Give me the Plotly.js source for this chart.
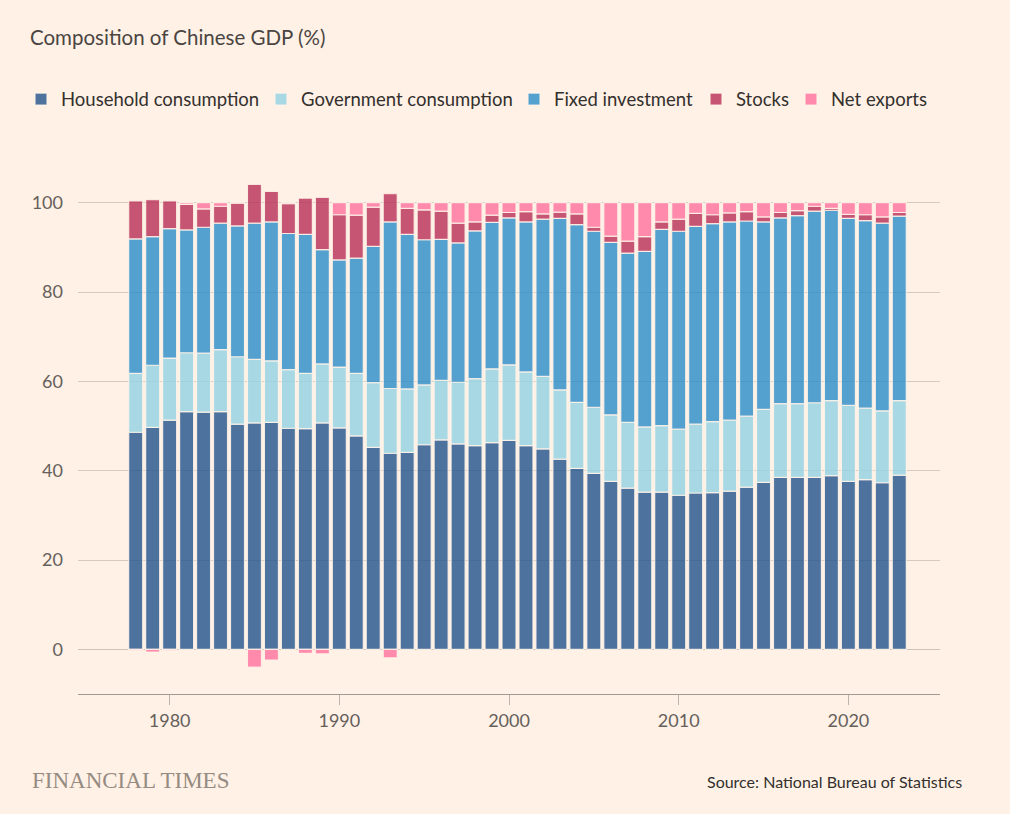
<!DOCTYPE html>
<html>
<head>
<meta charset="utf-8">
<script src="https://cdn.plot.ly/plotly-3.0.1.min.js"></script>
<style>
  html, body { margin: 0; padding: 0; background: #fff1e5; }
  #chart { width: 1010px; height: 814px; }
</style>
</head>
<body>
<div id="chart"></div>
<script>
const years = [1978,1979,1980,1981,1982,1983,1984,1985,1986,1987,1988,1989,1990,1991,1992,1993,1994,1995,1996,1997,1998,1999,2000,2001,2002,2003,2004,2005,2006,2007,2008,2009,2010,2011,2012,2013,2014,2015,2016,2017,2018,2019,2020,2021,2022,2023];

const householdConsumption = [48.6,49.7,51.3,53.2,53.1,53.2,50.4,50.7,50.8,49.5,49.4,50.7,49.6,47.8,45.2,43.9,44.1,45.8,46.9,46.0,45.6,46.3,46.8,45.6,44.9,42.6,40.5,39.4,37.6,36.1,35.2,35.2,34.5,35.0,35.1,35.4,36.3,37.4,38.5,38.5,38.5,38.9,37.6,38.0,37.3,39.0];

const governmentConsumption = [13.2,13.9,13.9,13.2,13.2,13.9,15.1,14.2,13.8,13.1,12.4,13.2,13.6,14.0,14.5,14.5,14.2,13.4,13.3,13.8,15.0,16.5,16.9,16.5,16.2,15.5,14.8,14.8,14.9,14.7,14.6,14.9,14.8,15.4,15.9,15.9,15.9,16.3,16.5,16.5,16.7,16.8,17.0,16.0,16.1,16.7];

const fixedInvestment = [30.1,28.8,29.0,27.5,28.2,28.3,29.3,30.5,31.1,30.5,31.1,25.6,24.0,25.8,30.5,37.3,34.6,32.5,31.6,31.2,33.1,32.8,32.9,33.6,35.2,38.4,39.8,39.4,38.6,37.9,39.3,43.9,44.3,44.3,44.3,44.4,43.7,42.0,41.6,42.1,42.9,42.6,41.9,42.0,42.0,41.3];

const stocks = [8.5,8.3,6.2,5.7,4.1,3.8,5.1,8.7,6.8,6.7,8.1,11.7,10.1,9.6,8.8,6.3,5.8,6.7,6.3,4.4,2.0,1.6,1.2,2.3,1.2,1.4,2.4,0.9,1.4,2.7,3.3,1.7,2.7,2.9,2.0,2.0,2.1,1.1,1.2,1.1,1.1,0.4,0.9,1.3,1.4,0.8];

const netExports = [-0.3,-0.6,-0.3,0.4,1.4,0.8,0.1,-4.0,-2.4,0.2,-0.9,-1.0,2.7,2.8,1.0,-1.9,1.3,1.6,1.9,4.6,4.3,2.8,2.2,2.0,2.5,2.1,2.5,5.5,7.5,8.6,7.6,4.3,3.7,2.4,2.7,2.3,2.0,3.2,2.2,1.8,0.8,1.3,2.6,2.7,3.2,2.2];

const seriesNames = ["Household consumption","Government consumption","Fixed investment","Stocks","Net exports"];
const seriesValues = [householdConsumption, governmentConsumption, fixedInvestment, stocks, netExports];
const seriesColors = ["rgba(32,83,140,0.8)","rgba(146,210,226,0.8)","rgba(41,140,200,0.8)","rgba(182,46,86,0.8)","rgba(255,113,156,0.8)"];

const xTicks = [1980,1990,2000,2010,2020];
const yTicks = [0,20,40,60,80,100];

const FONT = "Lato, 'Noto Sans', sans-serif";
const W = 1010, H = 814;

// legend ids, one per series, so each entry sits where the original places it
const legendIds = ["legend","legend2","legend3","legend4","legend5"];
const legendLeftPx = [21, 261, 514, 696, 791];

const traces = seriesNames.map((name, i) => ({
  type: "bar",
  name: name,
  x: years,
  y: seriesValues[i],
  legend: legendIds[i],
  marker: {
    color: seriesColors[i],
    line: { color: "rgba(255,244,234,0.85)", width: 1.2 }
  },
  hovertemplate: "%{x}: %{y:.1f}%<extra>" + name + "</extra>"
}));

const layout = {
  width: W,
  height: H,
  paper_bgcolor: "#fff1e5",
  plot_bgcolor: "#fff1e5",
  barmode: "relative",
  bargap: 0.175,
  margin: { l: 78, r: 70, t: 158, b: 120, autoexpand: false },
  font: { family: FONT, color: "#66605c", size: 18 },
  title: {
    text: "Composition of Chinese GDP (%)",
    font: { family: FONT, size: 20.5, color: "#4a4542" },
    xref: "container", yref: "container",
    x: 30 / W, xanchor: "left",
    y: 1 - 38 / H, yanchor: "middle"
  },
  showlegend: true,
  xaxis: {
    range: [1974.6, 2025.4],
    tickvals: xTicks,
    ticktext: xTicks.map(String),
    showgrid: false,
    zeroline: false,
    showline: true,
    linecolor: "#a39a92",
    linewidth: 1,
    ticks: "outside",
    ticklen: 10,
    tickcolor: "#bdb4ab",
    tickwidth: 1,
    tickfont: { family: FONT, size: 18, color: "#66605c" },
    fixedrange: true
  },
  yaxis: {
    range: [-10, 110],
    tickvals: yTicks,
    ticktext: yTicks.map(String),
    showgrid: true,
    gridcolor: "#d6cbc0",
    gridwidth: 1,
    zeroline: true,
    zerolinecolor: "#cfc3b8",
    zerolinewidth: 1,
    showline: false,
    ticks: "",
    ticklabelstandoff: 14,
    tickfont: { family: FONT, size: 18, color: "#66605c" },
    fixedrange: true
  },
  annotations: [
    {
      text: "FINANCIAL TIMES",
      xref: "paper", yref: "paper",
      x: (30 - 78) / 862, xanchor: "left",
      y: (694 - 780) / 536, yanchor: "middle",
      showarrow: false,
      font: { family: "'Liberation Serif', 'DejaVu Serif', serif", size: 23, color: "#958b82" }
    },
    {
      text: "Source: National Bureau of Statistics",
      xref: "paper", yref: "paper",
      x: (964 - 78) / 862, xanchor: "right",
      y: (694 - 781) / 536, yanchor: "middle",
      showarrow: false,
      font: { family: FONT, size: 16, color: "#33302e" }
    }
  ]
};

legendIds.forEach((id, i) => {
  layout[id] = {
    orientation: "h",
    xref: "container", yref: "container",
    x: legendLeftPx[i] / W, xanchor: "left",
    y: 1 - 99.5 / H, yanchor: "middle",
    font: { family: FONT, size: 18.5, color: "#33302e" },
    bgcolor: "rgba(0,0,0,0)",
    borderwidth: 0,
    itemclick: false,
    itemdoubleclick: false
  };
});

Plotly.newPlot("chart", traces, layout, { displayModeBar: false });
</script>
</body>
</html>
